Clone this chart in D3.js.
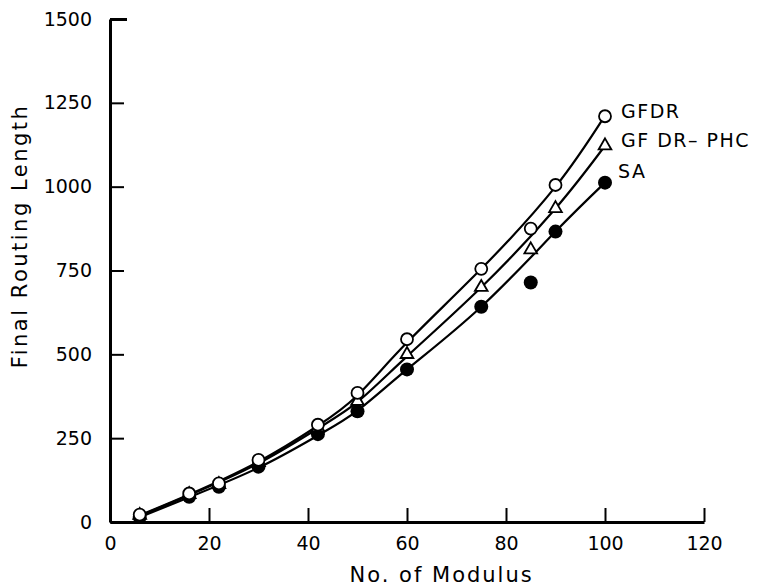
<!DOCTYPE html>
<html>
<head>
<meta charset="utf-8">
<script src="https://cdn.jsdelivr.net/npm/d3@7"></script>
<style>
  body { margin: 0; background: #fff; }
  svg text { font-family: "DejaVu Sans", sans-serif; fill: #000; }
</style>
</head>
<body>
<div></div>
<script>
// measured points
const modules = [6, 16, 22, 30, 42, 50, 60, 75, 85, 90, 100];
const gfdr = [22, 85, 115, 185, 290, 385, 545, 755, 875, 1005, 1210];
const gfdrPhc = [20, 82, 112, 178, 282, 360, 500, 700, 812, 935, 1122];
const sa = [15, 75, 105, 165, 262, 330, 455, 642, 714, 866, 1012];

// hand drawn fit curves
const fitX = [6, 16, 30, 42, 50, 60, 75, 90, 100];
const gfdrFit = [20, 82, 180, 287, 378, 535, 755, 1000, 1212];
const gfdrPhcFit = [18, 80, 175, 279, 358, 494, 700, 935, 1122];
const saFit = [14, 74, 162, 258, 332, 455, 642, 866, 1012];

const xTicks = [0, 20, 40, 60, 80, 100, 120];
const yTicks = [0, 250, 500, 750, 1000, 1250, 1500];

const w = 762;
const h = 588;
const svg = d3.select("div").append("svg").attr("width", w).attr("height", h);

const x = d3.scaleLinear().domain([0, 120]).range([110, 704]);
const y = d3.scaleLinear().domain([0, 1500]).range([522, 19]);

// axes, ticks pointing inward
const xAxis = svg
  .append("g")
  .attr("transform", "translate(0," + y(0) + ")")
  .call(
    d3.axisBottom(x).tickValues(xTicks).tickFormat(d3.format("d"))
      .tickSizeInner(-14).tickSizeOuter(0).tickPadding(15)
  );
const yAxis = svg
  .append("g")
  .attr("transform", "translate(" + x(0) + ",0)")
  .call(
    d3.axisLeft(y).tickValues(yTicks).tickFormat(d3.format("d"))
      .tickSizeInner(-14).tickSizeOuter(0).tickPadding(18)
  );

[xAxis, yAxis].forEach((g) => {
  g.select(".domain").attr("stroke", "#000").attr("stroke-width", 3);
  g.selectAll(".tick line").attr("stroke", "#000").attr("stroke-width", 2);
  g.selectAll(".tick text").style("font-size", "19px").attr("fill", "#000");
});
yAxis.select(".tick:last-of-type line").attr("x2", 17).attr("stroke-width", 3);

svg
  .append("text")
  .attr("x", x(67))
  .attr("y", 576)
  .attr("text-anchor", "middle")
  .attr("dominant-baseline", "middle")
  .style("font-size", "21px")
  .style("letter-spacing", "2px")
  .text("No. of  Modulus");
svg
  .append("text")
  .attr("transform", "translate(21," + 236 + ") rotate(-90)")
  .attr("text-anchor", "middle")
  .attr("dominant-baseline", "middle")
  .style("font-size", "21px")
  .style("letter-spacing", "2.5px")
  .text("Final  Routing  Length");

// fitted curves
const line = d3
  .line()
  .x((d) => x(d[0]))
  .y((d) => y(d[1]))
  .curve(d3.curveNatural);
[gfdrFit, gfdrPhcFit, saFit].forEach((s) => {
  svg
    .append("path")
    .attr("d", line(fitX.map((m, i) => [m, s[i]])))
    .attr("fill", "none")
    .attr("stroke", "#000")
    .attr("stroke-width", 2.2);
});

// markers
svg
  .append("g")
  .selectAll("circle")
  .data(modules)
  .enter()
  .append("circle")
  .attr("cx", (d) => x(d))
  .attr("cy", (d, i) => y(sa[i]))
  .attr("r", 7)
  .attr("fill", "#000");
svg
  .append("g")
  .selectAll("path")
  .data(modules)
  .enter()
  .append("path")
  .attr("d", d3.symbol().type(d3.symbolTriangle).size(70))
  .attr("transform", (d, i) => "translate(" + x(d) + "," + y(gfdrPhc[i]) + ")")
  .attr("fill", "#fff")
  .attr("stroke", "#000")
  .attr("stroke-width", 1.8);
svg
  .append("g")
  .selectAll("circle")
  .data(modules)
  .enter()
  .append("circle")
  .attr("cx", (d) => x(d))
  .attr("cy", (d, i) => y(gfdr[i]))
  .attr("r", 6)
  .attr("fill", "#fff")
  .attr("stroke", "#000")
  .attr("stroke-width", 1.8);

// series labels
const names = ["GFDR", "GF DR\u2013 PHC", "SA"];
const labelY = [112, 141, 172];
svg
  .append("g")
  .selectAll("text")
  .data(names)
  .enter()
  .append("text")
  .attr("x", (d, i) => (i == 2 ? 618 : 621))
  .attr("y", (d, i) => labelY[i])
  .attr("dominant-baseline", "middle")
  .style("font-size", "19px")
  .style("letter-spacing", "1.5px")
  .text((d) => d);
</script>
</body>
</html>
